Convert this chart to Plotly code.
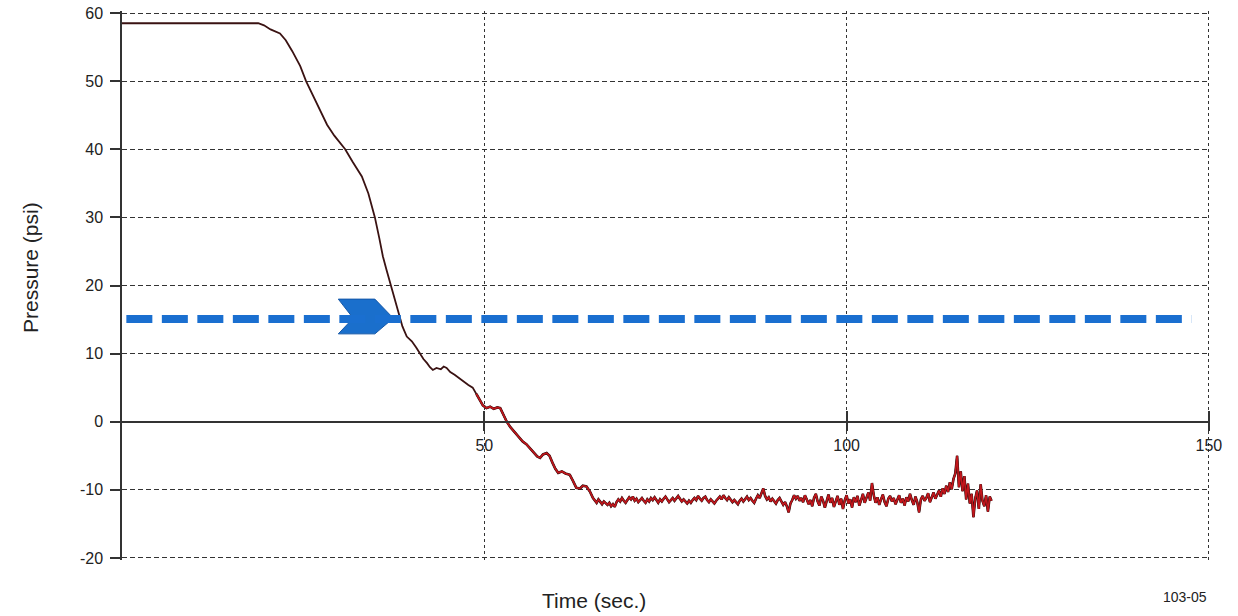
import numpy as np
import plotly.graph_objects as go

# ---------------- data ----------------
# smooth descent part: time (s) and pressure (psi)
t_desc = [0, 18.8, 19.6, 20.5, 21.8, 22.6, 23.5, 24.6, 25.4, 26.3, 27.3, 28.3, 29.3, 30.0,
          30.8, 31.8, 33.1, 34.0, 34.9, 35.5, 36.0, 36.5, 37.1, 37.6, 38.1, 38.7, 39.3,
          40.0, 40.6, 41.1, 41.6, 42.1, 42.5, 42.9, 43.4, 44.0, 44.4, 44.8, 45.3, 45.9,
          46.5, 47.2, 47.8, 48.4, 48.9, 49.4, 49.8, 50.3, 50.8, 51.3, 51.8, 52.2, 52.7,
          53.1, 53.6, 54.1, 54.6, 55.0, 55.3, 55.8, 56.3, 56.8, 57.3, 57.7, 58.1, 58.6,
          59.0, 59.4, 59.8, 60.2, 60.7, 61.2, 61.8, 62.2, 62.7, 63.2, 63.6, 64.1, 64.6]
p_desc = [58.5, 58.5, 58.2, 57.6, 57.0, 56.0, 54.4, 52.2, 50.0, 48.0, 45.8, 43.6, 42.0, 41.0,
          40.0, 38.2, 36.0, 33.5, 30.0, 27.0, 24.3, 22.3, 20.0, 18.0, 16.0, 14.0, 12.5,
          11.8, 10.9, 10.0, 9.2, 8.6, 8.0, 7.6, 7.9, 7.7, 8.1, 7.9, 7.3, 6.9,
          6.4, 5.9, 5.4, 5.0, 4.1, 3.2, 2.4, 2.0, 2.2, 1.9, 2.1, 2.0, 0.9,
          0.0, -0.8, -1.4, -2.0, -2.4, -2.9, -3.3, -3.9, -4.6, -5.1, -5.3, -4.8, -4.6,
          -5.0, -6.0, -6.9, -7.5, -7.3, -7.6, -7.8, -8.6, -9.7, -9.8, -9.4, -9.5, -10.3]

# noisy tail, sampled every 0.25 s from 65 s to 120 s
tail_start = 65.0
tail_step = 0.25
p_tail = [
    -11.2, -11.6, -11.9, -11.4,  -11.8, -12.1, -11.7, -12.0,  -12.2, -11.9, -12.4, -12.1,
    -12.5, -11.8, -11.4, -11.7,  -11.2, -11.6, -11.9, -11.5,  -11.1, -11.4, -11.0, -11.6,
    -11.3, -11.8, -11.5, -11.2,  -11.6, -11.9, -11.4, -11.7,  -11.2, -11.5, -11.1, -11.6,
    -11.9, -11.4, -11.7, -11.3,  -11.0, -11.4, -11.8, -11.5,  -11.2, -11.6, -11.3, -10.9,
    -11.3, -11.7, -11.4, -11.8,  -12.0, -11.6, -11.9, -11.5,  -11.2, -11.5, -10.9, -11.3,
    -11.6, -11.2, -11.0, -11.5,  -11.8, -11.4, -11.7, -12.0,  -11.6, -11.3, -11.0, -11.4,
    -10.8, -11.2, -11.5, -11.1,  -11.4, -11.8, -11.5, -11.9,  -12.1, -11.6, -11.3, -11.7,
    -11.4, -11.0, -11.5, -11.2,  -11.6, -11.9, -11.3, -10.8,  -11.2, -10.6, -9.8, -10.9,
    -11.4, -11.1, -11.7, -11.3,  -11.6, -12.0, -11.5, -11.2,  -11.7, -12.2, -11.8, -12.4,
    -13.3, -12.0, -11.5, -10.8,  -11.3, -10.9, -11.6, -11.2,  -11.8, -10.8, -11.4, -12.1,
    -11.5, -12.4, -11.2, -10.6,  -11.7, -12.3, -11.0, -11.6,  -12.6, -11.4, -10.7, -11.9,
    -11.2, -12.5, -11.6, -10.9,  -12.2, -11.3, -12.8, -11.5,  -10.8, -12.0, -11.4, -12.6,
    -11.1, -11.8, -10.9, -12.3,  -11.5, -10.6, -11.9, -11.2,  -10.4, -11.6, -9.0, -10.8,
    -11.9, -11.1, -12.2, -11.4,  -10.7, -11.8, -12.4, -11.3,  -10.9, -11.7, -11.2, -12.1,
    -11.4, -10.8, -11.9, -11.3,  -12.3, -11.1, -11.7, -10.6,  -11.5, -12.2, -11.0, -11.8,
    -13.3, -11.4, -10.9, -11.6,  -11.2, -10.5, -11.8, -11.0,  -10.4, -11.3, -10.7, -10.1,
    -11.0, -9.8, -10.6, -9.4,    -10.3, -8.9, -9.9, -8.4,     -7.6, -5.0, -9.6, -7.3,
    -10.2, -8.0, -11.4, -9.1,    -12.0, -10.6, -14.0, -11.3,  -10.1, -12.8, -9.2, -11.6,
    -12.4, -10.8, -13.2, -11.0,  -11.6]

# threshold line and arrow marker
threshold_p = 15.1
threshold_t = [0.6, 147.6]
arrow_t = [29.85, 34.9, 37.44, 34.9, 29.85, 31.9, 29.85]
arrow_p = [18.0, 18.0, 15.2, 12.9, 12.9, 15.2, 18.0]

x_ticks = [50, 100, 150]
y_ticks = [-20, -10, 0, 10, 20, 30, 40, 50, 60]
y_tick_labels = ["-20", "-10", "0", "10", "20", "30", "40", "50", "60"]

# ---------------- build ----------------
t_tail = [tail_start + tail_step * i for i in range(len(p_tail))]
t_all = t_desc + t_tail
p_all = p_desc + p_tail
t_red = [t for t in t_all if t >= 48.9]
p_red = [p for t, p in zip(t_all, p_all) if t >= 48.9]

# ranges padded a hair so gridlines at the edges (60, -20, 150) are drawn
y_range = [-20.3, 60.3]
x_range = [0, 150.15]
x_axis_pos = (0 - y_range[0]) / (y_range[1] - y_range[0])

W, H = 1238, 616
ML, MR, MT, MB = 122, 28, 11, 56
PW, PH = W - ML - MR, H - MT - MB


def px_x(px):
    return (px - ML) / PW


def px_y(py):
    return (H - MB - py) / PH


fig = go.Figure()
fig.add_trace(go.Scatter(x=threshold_t, y=[threshold_p] * 2, mode="lines", xaxis="x2",
                         line=dict(color="#1a6fd0", width=8, dash="26px,9.5px"),
                         hoverinfo="skip", showlegend=False))
fig.add_trace(go.Scatter(x=arrow_t, y=arrow_p, mode="lines", fill="toself",
                         fillcolor="#1a6fcc", line=dict(color="#1558a8", width=1),
                         hoverinfo="skip", showlegend=False))
fig.add_trace(go.Scatter(x=t_all, y=p_all, mode="lines",
                         line=dict(color="#3a1212", width=1.8), showlegend=False))
fig.add_trace(go.Scatter(x=t_red, y=p_red, mode="lines",
                         line=dict(color="#3a1212", width=2.6), showlegend=False))
fig.add_trace(go.Scatter(x=t_red, y=p_red, mode="lines",
                         line=dict(color="#c3161c", width=1.6), showlegend=False))

axis_color = "#333333"
fig.update_layout(
    width=W, height=H,
    margin=dict(l=ML, r=MR, t=MT, b=MB, autoexpand=False),
    paper_bgcolor="white", plot_bgcolor="white",
    font=dict(family="Liberation Sans, Arial, sans-serif", color="#222222", size=16),
    xaxis=dict(range=x_range, tickvals=x_ticks, anchor="free", position=x_axis_pos,
               showline=True, linecolor=axis_color, linewidth=1.5,
               ticks="outside", ticklen=9, tickwidth=1.5, tickcolor=axis_color,
               showgrid=True, gridcolor=axis_color, gridwidth=1.3, griddash="3px,3px",
               zeroline=False, tickfont=dict(size=16)),
    xaxis2=dict(range=x_range, tickvals=x_ticks, overlaying="x", anchor="free",
                position=x_axis_pos, showline=False, ticks="inside", ticklen=11,
                tickwidth=1.5, tickcolor=axis_color, showticklabels=False,
                showgrid=False, zeroline=False),
    yaxis=dict(range=y_range, tickvals=y_ticks, ticktext=y_tick_labels, showline=True,
               linecolor=axis_color, linewidth=1.5, ticks="outside", ticklen=10,
               tickwidth=1.5, tickcolor=axis_color, showgrid=True, gridcolor=axis_color,
               gridwidth=1.3, griddash="5px,3px", zeroline=False, ticklabelstandoff=4,
               tickfont=dict(size=16)),
    annotations=[
        dict(text="Pressure (psi)", textangle=-90, xref="paper", yref="paper",
             x=px_x(30), y=px_y(268), showarrow=False,
             font=dict(size=21), xanchor="center", yanchor="middle"),
        dict(text="Time (sec.)", xref="paper", yref="paper",
             x=px_x(594), y=px_y(600), showarrow=False,
             font=dict(size=21), xanchor="center", yanchor="middle"),
        dict(text="103-05", xref="paper", yref="paper",
             x=px_x(1209), y=px_y(597), showarrow=False,
             font=dict(size=14), xanchor="right", yanchor="middle"),
    ],
)

fig.write_html("out.html", config={"displayModeBar": False},
               post_script="document.body.style.margin='0';document.body.style.overflow='hidden';")
